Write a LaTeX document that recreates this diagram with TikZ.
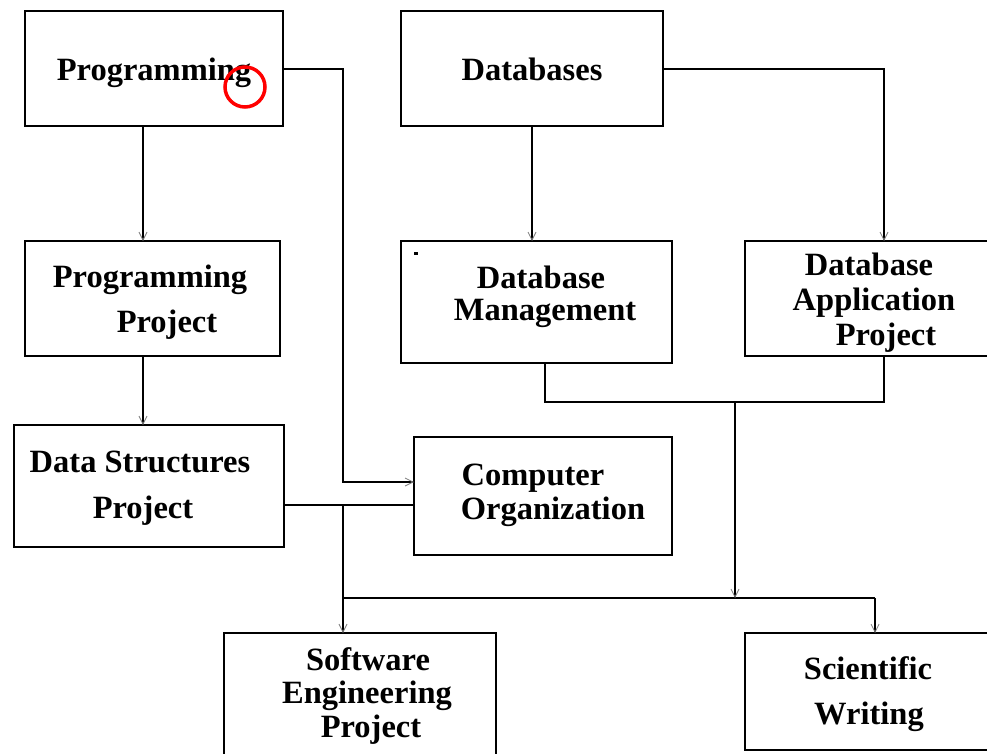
\documentclass[tikz,border=0pt]{standalone}
\usepackage{fontspec}
\setmainfont{Liberation Serif}
\usetikzlibrary{arrows.meta}
\begin{document}
\begin{tikzpicture}[x=1pt,y=-1pt,
  box/.style={draw, rectangle, line width=2.5pt, inner sep=0pt, outer sep=0pt},
  lbl/.style={anchor=base, inner sep=0pt, font=\bfseries\fontsize{32.5}{36}\selectfont},
  wire/.style={line width=2pt},
  feed/.style={wire, -{Straight Barb[length=8pt,width=8pt,line width=0.8pt,color=gray]}}]
\useasboundingbox (0,0) rectangle (987,753);
\fill[white] (0,0) rectangle (987,753);
\clip (0,0) rectangle (987,753);

% course boxes
\node[box, minimum width=258pt, minimum height=115pt] (prog) at (154,68.5) {};
\node[box, minimum width=262pt, minimum height=115pt] (db) at (532,68.5) {};
\node[box, minimum width=255pt, minimum height=115pt] (pp) at (152.5,298.5) {};
\node[box, minimum width=271pt, minimum height=122pt] (dm) at (536.5,302) {};
\node[box, minimum width=250pt, minimum height=115pt] (dap) at (870,298.5) {};
\node[box, minimum width=270pt, minimum height=122pt] (ds) at (149,486) {};
\node[box, minimum width=258pt, minimum height=118pt] (co) at (543,496) {};
\node[box, minimum width=272pt, minimum height=128pt] (se) at (360,697) {};
\node[box, minimum width=245pt, minimum height=117pt] (sw) at (867.5,691.5) {};

% course titles, one node per line, placed on their baselines
\node[lbl] (prog-a) at (154,80) {Programming};
\node[lbl] (db-a) at (532,80) {Databases};
\node[lbl] (pp-a) at (150,287) {Programming};
\node[lbl] (pp-b) at (167,332) {Project};
\node[lbl] (dm-a) at (541,288) {Database};
\node[lbl] (dm-b) at (545,320) {Management};
\node[lbl] (dap-a) at (869,275) {Database};
\node[lbl] (dap-b) at (874,310) {Application};
\node[lbl] (dap-c) at (886,345) {Project};
\node[lbl] (ds-a) at (140,472) {Data Structures};
\node[lbl] (ds-b) at (143,518) {Project};
\node[lbl] (co-a) at (533,485) {Computer};
\node[lbl] (co-b) at (553,519) {Organization};
\node[lbl] (se-a) at (368,670) {Software};
\node[lbl] (se-b) at (367,703) {Engineering};
\node[lbl] (se-c) at (371,737) {Project};
\node[lbl] (sw-a) at (868,679) {Scientific};
\node[lbl] (sw-b) at (869,724) {Writing};

% bend points of the connectors
\coordinate (xa) at (143,0);
\coordinate (xb) at (884,0);
\coordinate (r1) at (343,482);
\coordinate (r2) at (343,505);
\coordinate (r3) at (343,598);
\coordinate (r4) at (875,598);
\coordinate (m1) at (545,402);
\coordinate (m2) at (735,402);

% left column
\draw[feed] (prog.south -| xa) -- (pp.north -| xa);
\draw[feed] (pp.south -| xa) -- (ds.north -| xa);
\draw[feed] (prog.east) -| (r1) -- (co.west |- r1);
\draw[wire] (ds.east |- r2) -- (co.west |- r2);
\draw[wire] (r2) -- (r3) -- (r4);
\draw[feed] (r3) -- (se.north -| r3);
\draw[feed] (r4) -- (sw.north -| r4);

% right column
\draw[feed] (db.south) -- (dm.north -| db.south);
\draw[feed] (db.east) -| (dap.north -| xb);
\draw[wire] (dm.south -| m1) |- (xb |- m1) -- (dap.south -| xb);
\draw[feed] (m2) -- (m2 |- r3);

% small mark and highlight circle
\fill (414,252) rectangle (418,254.5);
\node[circle, draw=red, line width=3.5pt, minimum size=40pt, inner sep=0pt] (hl) at (245,87) {};
\end{tikzpicture}
\end{document}
